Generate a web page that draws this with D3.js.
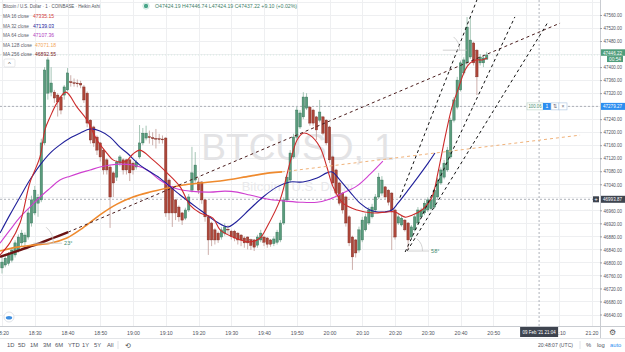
<!DOCTYPE html>
<html><head><meta charset="utf-8">
<script src="https://cdn.jsdelivr.net/npm/d3@7"></script>
<style>html,body{margin:0;padding:0;background:#fff;overflow:hidden}text{font-family:"Liberation Sans",Arial,sans-serif}</style>
</head><body><svg id="c" width="625" height="352"></svg>
<script>
// ---------------- DATA ----------------
const startTime = "2021-02-09T18:20:00Z"; // first visible 1-minute candle
const haOpen  = [46783,46792,46797,46807,46823,46838,46860,46863,46878,46921,46952,46982,46992,47167,47320,47323,47323,47314,47308,47314,47330,47355,47352,47351,47350,47339,47320,47237,47216,47185,47167,47145,47115,47093,47075,47062,47105,47115,
 47115,47115,47105,47093,47124,47167,47182,47186,47183,47181,47180,47179,47182,47053,47032,46992,46970,46952,46936,46961,47022,47053,47047,47047,46992,46940,46921,46900,46890,46878,46890,46902,46896,46896,46890,46884,46875,46878,
 46870,46869,46853,46869,46878,46875,46869,46858,46862,46869,46921,46992,47053,47124,47185,47216,47247,47274,47277,47268,47247,47237,47247,47237,47216,47124,47084,47044,47013,47001,46940,46878,46869,46838,46869,46900,46921,46940,46961,47001,47013,
 47032,47022,47013,46961,46921,46915,46930,46921,46878,46900,46921,46940,46952,46961,46965,46970,47001,47044,47062,47084,47124,47237,47277,47330,47382,47413,47431,47474,47452,47413,47413,47424.19];
const haHigh  = [46817,46820,46832,46845,46868,46886,46900,46892,46965,47005,47035,47010,47180,47400,47430,47400,47330,47320,47312,47345,47397,47375,47365,47362,47358,47345,47325,47240,47220,47190,47170,47150,47120,47100,47080,47115,47130,47120,
 47118,47118,47110,47115,47222,47213,47220,47205,47200,47210,47195,47190,47185,47058,47035,46995,46975,46955,46968,47010,47155,47139,47060,47050,46995,46945,46925,46905,46895,46908,46920,46915,46900,46900,46893,46887,46880,46880,
 46873,46872,46885,46900,46882,46878,46872,46880,46900,46930,47000,47070,47145,47195,47278,47268,47323,47320,47280,47272,47250,47299,47250,47240,47220,47128,47088,47048,47016,47005,46945,46882,46872,46910,46940,46950,46970,46980,47010,47075,47065,
 47035,47025,47016,46964,46950,46945,46933,46924,46915,46948,46970,46968,46990,47000,47000,47030,47060,47092,47115,47155,47245,47308,47370,47420,47430,47554,47554,47478,47455,47440,47438,47446.74];
const haLow   = [46766,46785,46790,46800,46815,46830,46850,46850,46870,46910,46945,46940,46985,47160,47300,47310,47290,47248,47255,47300,47325,47340,47340,47338,47335,47290,47215,47165,47155,47130,47110,47070,47070,46906,47001,47050,47095,47070,
 47070,47050,47070,47085,47118,47160,47175,47165,47160,47150,47165,47165,46940,46930,46909,46930,46925,46915,46930,46955,47015,47045,47010,46980,46925,46823,46850,46855,46860,46870,46882,46885,46870,46865,46855,46850,46845,46840,
 46838,46835,46845,46862,46850,46845,46848,46850,46855,46862,46915,46985,47045,47118,47178,47210,47240,47268,47220,47220,47176,47230,47190,47160,47105,47035,47005,46975,46950,46910,46850,46777,46815,46830,46862,46895,46915,46935,46955,46995,47005,
 46995,46975,46838,46870,46915,46910,46895,46838,46870,46895,46915,46935,46945,46955,46960,46965,46995,47038,47055,47078,47118,47230,47270,47325,47375,47405,47425,47405,47314,47405,47400,47424.19];
const haClose = [46801,46813,46823,46838,46860,46878,46890,46884,46952,46992,47022,47000,47167,47391,47422,47351,47305,47293,47268,47339,47382,47352,47351,47350,47345,47299,47228,47176,47167,47145,47124,47084,47084,47001,47044,47108,47124,47084,
 47084,47075,47084,47108,47167,47197,47197,47185,47180,47180,47179,47178,46952,46952,46952,46952,46940,46930,46961,47001,47075,47099,47022,46992,46940,46869,46869,46869,46869,46900,46909,46900,46880,46875,46869,46869,46860,46860,
 46852,46847,46878,46890,46862,46856,46856,46872,46893,46921,46992,47062,47136,47185,47268,47259,47308,47308,47228,47228,47207,47262,47197,47167,47115,47044,47013,46982,46961,46921,46860,46817,46829,46900,46930,46940,46961,46970,47001,47062,47053,
 47001,46985,46961,46878,46940,46936,46900,46869,46909,46940,46961,46961,46982,46992,46992,47022,47053,47084,47105,47145,47237,47299,47360,47413,47422,47523,47483,47413,47370,47431,47428,47437.22];

// moving averages: [minutes after 18:20, price]
const ma16 = [[-0.6,46823],[2.4,46860],[5.5,46921],[8.5,47044],[11.6,47124],[13.1,47207],[14.7,47247],[16.8,47290],[19.5,47323],[22.9,47277],[26,47237],[29,47176],[32,47136],[33.9,47115],[36,47108],[37.9,47111],[40,47133],[42.1,47145],[46.1,47115],[50.4,47075],[54.4,47032],[57.4,46976],[60.5,46952],[64.4,46936],[66.6,46900],[70.5,46878],[75.7,46863],[78.8,46875],[80.9,46909],[84.9,46992],[87.9,47105],[90.1,47176],[91.9,47197],[94,47191],[97.1,47154],[99.2,47093],[101.1,47032],[104.1,46982],[108.4,46961],[113.3,46952],[117.6,46955],[120,46955],[123.1,46939],[125.2,46945],[128.2,46961],[131.3,47001],[133.1,47075],[135.3,47185],[137.4,47277],[139.2,47330],[141.4,47391],[142.9,47412],[144.7,47422],[146.6,47422],[148.1,47428]];
const ma32 = [[-0.6,46890],[2.4,46946],[5.5,47001],[8.5,47053],[11.6,47099],[14.7,47136],[17.7,47161],[20.8,47182],[23.8,47197],[26.9,47210],[29.9,47204],[33,47185],[36,47154],[38.2,47136],[42.1,47099],[48.2,47059],[54.4,47007],[60.5,46961],[65.6,46924],[69,46909],[71.1,46921],[75.7,46964],[79.7,47001],[84,47032],[87.9,47047],[91.9,47047],[96.2,47059],[99.2,47075],[100.8,47078],[103.2,47053],[106.3,47016],[109.3,46982],[112.4,46961],[114.8,46955],[116.9,46955],[119.1,46961],[120.9,46982],[124,47022],[127,47062],[130.1,47105],[132.2,47136]];
const ma64 = [[-0.6,46859],[2.4,46899],[5.5,46939],[8.5,46970],[11.6,47001],[14.7,47028],[17.7,47053],[20.8,47065],[23.8,47075],[26.9,47084],[29.9,47093],[33,47099],[36,47102],[40,47099],[44.3,47084],[48.2,47053],[52.8,47028],[57.4,47019],[63.5,47016],[68.1,47019],[71.8,47016],[75.7,47007],[80.9,46995],[85.8,46989],[91,46985],[96.2,46985],[100.2,46995],[104.1,47013],[108.4,47035],[112.4,47071],[116.3,47111]];
const ma128 = [[-0.6,46835],[4.6,46847],[9.5,46853],[14.7,46859],[19.8,46875],[24.7,46906],[29.9,46946],[35.1,46979],[40,47001],[45.2,47016],[50.4,47028],[55.3,47038],[60.5,47044],[66.6,47050],[75.7,47065],[81.8,47075],[85.5,47078]];
const ma256 = [[-0.6,46817],[5.5,46838],[11.6,46859],[15.6,46875],[20.2,46893]];
const maLegend = [["MA 16 close","47335.15"],["MA 32 close","47139.03"],["MA 64 close","47107.36"],["MA 128 close","47071.18"],["MA 256 close","46892.55"]];

// drawings
const trendAngle = [[20.2,46893],[170.4,47535]];
const orangeRay  = [[85.5,47078],[176.5,47191]];
const channelLines = [
  [[121.5,46999],[145.0,47606]],
  [[123.1,46832],[156.6,47554]],
  [[123.7,46835],[166.7,47538]]
];
const hLineBlue = 47279.27, hLineCross = 46993.87, lastPrice = 47446.22;

const yGrid = [46640,46680,46720,46760,46800,46840,46880,46920,46960,47000,47040,47080,47120,47160,47200,47240,47280,47320,47360,47400,47440,47480,47520,47560,47600];
const yTickLabels = [46640,46680,46720,46760,46800,46840,46880,46920,46960,47040,47080,47120,47160,47200,47240,47320,47360,47400,47480,47520,47560];
const xGrid = ["18:20","18:30","18:40","18:50","19:00","19:10","19:20","19:30","19:40","19:50","20:00","20:10","20:20","20:30","20:40","20:50","21:00","21:10","21:20"];
const xTickLabels = ["18:20","18:30","18:40","18:50","19:00","19:10","19:20","19:30","19:40","19:50","20:00","20:10","20:20","20:30","20:40","20:50","21:10","21:20"];
const rangeButtons = ["1D","5D","1M","3M","6M","YTD","1Y","5Y","All"];

// ---------------- CHART ----------------
const svg = d3.select("#c");
const PW = 600, PH = 326;
const x = d3.scaleUtc().domain([new Date("2021-02-09T20:00:00Z"), new Date("2021-02-09T20:50:00Z")]).range([329.5, 493.25]);
const y = d3.scaleLinear().domain([46640, 47560]).range([314.5, 15]);
const t0 = new Date(startTime).getTime();
const tk = k => new Date(t0 + k * 60000);
const tickDate = s => new Date("2021-02-09T" + s + ":00Z");

svg.append("defs").append("clipPath").attr("id","pc").append("rect").attr("width",PW).attr("height",PH);
const plot = svg.append("g").attr("clip-path","url(#pc)");

// grid
plot.append("g").selectAll("line").data(yGrid).join("line")
  .attr("x1",0).attr("x2",PW).attr("y1",d=>Math.round(y(d))+0.5).attr("y2",d=>Math.round(y(d))+0.5)
  .attr("stroke","#eeeff1").attr("stroke-width",1);
plot.append("g").selectAll("line").data(xGrid).join("line")
  .attr("y1",0).attr("y2",PH).attr("x1",d=>Math.round(x(tickDate(d)))+0.5).attr("x2",d=>Math.round(x(tickDate(d)))+0.5)
  .attr("stroke","#eeeff1").attr("stroke-width",1);

// watermark
plot.append("text").attr("x",298).attr("y",160).attr("text-anchor","middle")
  .attr("font-size",37).attr("fill","#e3e3e5").text("BTCUSD, 1");
plot.append("text").attr("x",298).attr("y",191).attr("text-anchor","middle")
  .attr("font-size",13).attr("fill","#e9e9eb").text("Bitcoin / U.S. Dollar");

// horizontal / vertical dashed lines
plot.append("line").attr("x1",0).attr("x2",PW).attr("y1",y(hLineBlue)).attr("y2",y(hLineBlue))
  .attr("stroke","#9aa0a8").attr("stroke-dasharray","2,2").attr("stroke-width",0.8);
plot.append("line").attr("x1",0).attr("x2",PW).attr("y1",y(hLineCross)).attr("y2",y(hLineCross))
  .attr("stroke","#9aa0a8").attr("stroke-dasharray","2,2").attr("stroke-width",0.8);
plot.append("line").attr("x1",x(tk(164))).attr("x2",x(tk(164))).attr("y1",0).attr("y2",PH)
  .attr("stroke","#9aa0a8").attr("stroke-dasharray","2,2").attr("stroke-width",0.8);
plot.append("line").attr("x1",0).attr("x2",PW).attr("y1",y(haClose[haClose.length-1])).attr("y2",y(haClose[haClose.length-1]))
  .attr("stroke","#cfe5da").attr("stroke-dasharray","1,2").attr("stroke-width",0.8);

// candles
const idx = d3.range(haOpen.length);
const up = i => haClose[i] >= haOpen[i];
const cg = plot.append("g");
cg.selectAll("line").data(idx).join("line")
  .attr("x1",i=>x(tk(i))).attr("x2",i=>x(tk(i)))
  .attr("y1",i=>y(haHigh[i])).attr("y2",i=>y(haLow[i]))
  .attr("stroke",i=>up(i)?"#8fb8a4":"#c09a95").attr("stroke-width",0.8);
cg.selectAll("rect").data(idx).join("rect")
  .attr("x",i=>x(tk(i))-1.2).attr("width",2.4)
  .attr("y",i=>y(Math.max(haOpen[i],haClose[i])))
  .attr("height",i=>Math.max(0.8,Math.abs(y(haOpen[i])-y(haClose[i]))))
  .attr("fill",i=>up(i)?"#5a9c7d":"#ad4639")
  .attr("stroke",i=>up(i)?"#2f6b52":"#7b2a22").attr("stroke-width",0.4);

// MAs
const line = d3.line().x(d=>x(tk(d[0]))).y(d=>y(d[1])).curve(d3.curveCatmullRom.alpha(0.5));
const mas = [[ma256,"#6b1212",2.4],[ma128,"#ef8a2e",1.6],[ma64,"#cf3fd0",1.1],[ma32,"#1f1f9a",1.1],[ma16,"#cc2a2a",1.1]];
mas.forEach(([d,c,w])=>plot.append("path").attr("d",line(d)).attr("fill","none").attr("stroke",c).attr("stroke-width",w));

// drawings
const sline = d3.line().x(d=>x(tk(d[0]))).y(d=>y(d[1]));
plot.append("path").attr("d",sline(trendAngle)).attr("stroke","#4a1c1c").attr("stroke-width",1).attr("stroke-dasharray","3,3").attr("fill","none");
plot.append("path").attr("d",sline(orangeRay)).attr("stroke","#f0b27a").attr("stroke-width",1).attr("stroke-dasharray","3,3").attr("fill","none");
channelLines.forEach(l=>plot.append("path").attr("d",sline(l)).attr("stroke","#111").attr("stroke-width",1).attr("stroke-dasharray","3,3").attr("fill","none"));

// angle markers
function angleMark(k,p,len,label){
  const x0=x(tk(k)), y0=y(p);
  plot.append("line").attr("x1",x0).attr("x2",x0+len).attr("y1",y0).attr("y2",y0).attr("stroke","#c8c8c8").attr("stroke-width",0.8);
  plot.append("path").attr("d",`M${x0+len*0.7},${y0} A${len*0.7},${len*0.7} 0 0 0 ${x0+len*0.45},${y0-len*0.55}`).attr("fill","none").attr("stroke","#c8c8c8").attr("stroke-width",0.8);
  if(label) plot.append("text").attr("x",x0+len+2).attr("y",y0+2).attr("font-size",5.5).attr("fill","#3e8a6c").text(label);
}
angleMark(9.5,46859,29,"23°");
angleMark(123.7,46835,22,"58°");
angleMark(134.6,47452,24,"");

// blue line widget
const wy = y(hLineBlue);
plot.append("rect").attr("x",527).attr("y",wy-3.5).attr("width",16).attr("height",7).attr("fill","#fff").attr("stroke","#b9d3c5").attr("stroke-width",0.6);
plot.append("text").attr("x",528.5).attr("y",wy+1.8).attr("font-size",4.5).attr("textLength",13).attr("lengthAdjust","spacingAndGlyphs").attr("fill","#3e8a6c").text("100.06");
plot.append("rect").attr("x",543).attr("y",wy-3.5).attr("width",8).attr("height",7).attr("fill","#2d8ef0");
plot.append("text").attr("x",547).attr("y",wy+2).attr("text-anchor","middle").attr("font-size",5).attr("fill","#fff").text("1");
plot.append("rect").attr("x",551).attr("y",wy-3.5).attr("width",8).attr("height",7).attr("fill","#fff").attr("stroke","#a9c3e0").attr("stroke-width",0.6);
plot.append("text").attr("x",555).attr("y",wy+2).attr("text-anchor","middle").attr("font-size",5).attr("fill","#667").text("⇅");
plot.append("rect").attr("x",559).attr("y",wy-3.5).attr("width",8).attr("height",7).attr("fill","#fff").attr("stroke","#a9c3e0").attr("stroke-width",0.6);
plot.append("text").attr("x",563).attr("y",wy+2).attr("text-anchor","middle").attr("font-size",5).attr("fill","#667").text("×");

// ---------------- AXES ----------------
svg.append("line").attr("x1",PW+0.5).attr("x2",PW+0.5).attr("y1",0).attr("y2",338).attr("stroke","#c9ccd1");
svg.append("line").attr("x1",0).attr("x2",625).attr("y1",PH+0.5).attr("y2",PH+0.5).attr("stroke","#c9ccd1");
svg.append("line").attr("x1",0).attr("x2",625).attr("y1",338.5).attr("y2",338.5).attr("stroke","#e3e5e8");

const yAxis = d3.axisRight(y).tickValues(yTickLabels).tickFormat(d=>d.toFixed(2)).tickSize(2).tickPadding(1.5);
const ya = svg.append("g").attr("transform",`translate(${PW},0)`).call(yAxis);
ya.select(".domain").remove();
ya.selectAll("line").attr("stroke","#9a9ea5");
ya.selectAll("text").attr("font-size",5.4).attr("fill","#50535e").attr("font-family","Liberation Sans, Arial")
  .attr("textLength",18.5).attr("lengthAdjust","spacingAndGlyphs");

const xAxis = d3.axisBottom(x).tickValues(xTickLabels.map(tickDate)).tickFormat(d3.utcFormat("%H:%M")).tickSize(0).tickPadding(5);
const xa = svg.append("g").attr("transform",`translate(0,${PH})`).call(xAxis);
xa.select(".domain").remove();
xa.selectAll("text").attr("font-size",5.4).attr("fill","#50535e").attr("font-family","Liberation Sans, Arial")
  .attr("textLength",13).attr("lengthAdjust","spacingAndGlyphs");

// price tags
function tag(yc,label,fill,h){
  svg.append("rect").attr("x",601).attr("y",yc-h/2).attr("width",24).attr("height",h).attr("fill",fill);
  svg.append("text").attr("x",603).attr("y",yc+2).attr("font-size",5.4).attr("textLength",19).attr("lengthAdjust","spacingAndGlyphs").attr("fill","#fff").text(label);
}
tag(y(lastPrice)+0.5,lastPrice.toFixed(2),"#4f9d7b",6.5);
svg.append("rect").attr("x",607).attr("y",y(lastPrice)+4).attr("width",16).attr("height",6).attr("fill","#4f9d7b");
svg.append("text").attr("x",609).attr("y",y(lastPrice)+8.7).attr("font-size",5).attr("textLength",12).attr("lengthAdjust","spacingAndGlyphs").attr("fill","#fff").text("00:54");
tag(y(hLineBlue),hLineBlue.toFixed(2),"#2d8ef0",7);
tag(y(hLineCross),hLineCross.toFixed(2),"#3e444f",7);
svg.append("rect").attr("x",593).attr("y",y(hLineCross)-3).attr("width",6).attr("height",6).attr("fill","#3e444f");
svg.append("text").attr("x",596).attr("y",y(hLineCross)+2).attr("text-anchor","middle").attr("font-size",6).attr("fill","#fff").text("+");
// time tag
svg.append("rect").attr("x",x(tk(164))-19).attr("y",327).attr("width",38).attr("height",10).attr("fill","#3e444f");
svg.append("text").attr("x",x(tk(164))-16.5).attr("y",334).attr("font-size",5.2).attr("textLength",33).attr("lengthAdjust","spacingAndGlyphs").attr("fill","#fff").text("09 Feb '21   21:04");
// gear
svg.append("text").attr("x",612).attr("y",335).attr("text-anchor","middle").attr("font-size",8).attr("fill","#555").text("⚙");

// ---------------- HEADER / LEGEND ----------------
svg.append("text").attr("x",3).attr("y",8).attr("font-size",6.2).attr("fill","#50535e").attr("textLength",97).attr("lengthAdjust","spacingAndGlyphs").text("Bitcoin / U.S. Dollar · 1 · COINBASE · Heikin Ashi");
svg.append("circle").attr("cx",146).attr("cy",6).attr("r",2.2).attr("fill","#4aa68a");
svg.append("circle").attr("cx",146).attr("cy",6).attr("r",3.2).attr("fill","none").attr("stroke","#c8e6dc").attr("stroke-width",1);
svg.append("text").attr("x",155).attr("y",8).attr("font-size",6.2).attr("fill","#3f7f6a").attr("textLength",142).attr("lengthAdjust","spacingAndGlyphs")
  .text(`O${haOpen.at(-1)} H${haHigh.at(-1)} L${haLow.at(-1)} C${haClose.at(-1)} +9.10 (+0.02%)`);
const legCols = ["#d23a3a","#23239b","#b03ec0","#f2a65a","#7a1a1a"];
maLegend.forEach((m,i)=>{
  const yy = 18 + i*9.5;
  const wide = i>=3;
  svg.append("text").attr("x",3).attr("y",yy).attr("font-size",5.6).attr("fill","#60636e")
    .attr("textLength",wide?29:26).attr("lengthAdjust","spacingAndGlyphs").text(m[0]);
  svg.append("text").attr("x",wide?35:33).attr("y",yy).attr("font-size",5.6).attr("fill",legCols[i])
    .attr("textLength",21).attr("lengthAdjust","spacingAndGlyphs").text(m[1]);
});
svg.append("rect").attr("x",4).attr("y",59).attr("width",11).attr("height",8).attr("rx",1.5).attr("fill","#fff").attr("stroke","#d6d8dc").attr("stroke-width",0.6);
svg.append("text").attr("x",9.5).attr("y",65.5).attr("text-anchor","middle").attr("font-size",6).attr("fill","#555").text("^");

// cloud icon
svg.append("circle").attr("cx",9).attr("cy",317).attr("r",5).attr("fill","#fff").attr("stroke","#e0e3e8");
svg.append("ellipse").attr("cx",9).attr("cy",317.8).attr("rx",3.2).attr("ry",1.8).attr("fill","#3c8de0");

// ---------------- BOTTOM TOOLBAR ----------------
const bx = [7,18,30,43,55,68,82,94,107];
rangeButtons.forEach((b,i)=>svg.append("text").attr("x",bx[i]).attr("y",347).attr("font-size",5.8).attr("fill","#50535e").text(b));
svg.append("line").attr("x1",118).attr("x2",118).attr("y1",341).attr("y2",349).attr("stroke","#e0e3e8");
svg.append("text").attr("x",125).attr("y",347.5).attr("font-size",7).attr("fill","#555").text("⟲");
svg.append("text").attr("x",538).attr("y",347).attr("font-size",5.8).attr("fill","#50535e").attr("textLength",35).attr("lengthAdjust","spacingAndGlyphs").text("20:48:07 (UTC)");
svg.append("line").attr("x1",580).attr("x2",580).attr("y1",341).attr("y2",349).attr("stroke","#e0e3e8");
svg.append("text").attr("x",586).attr("y",347).attr("font-size",5.8).attr("fill","#50535e").text("%");
svg.append("text").attr("x",597).attr("y",347).attr("font-size",5.8).attr("fill","#50535e").text("log");
svg.append("text").attr("x",610).attr("y",347).attr("font-size",5.8).attr("fill","#2d8ef0").text("auto");
</script></body></html>
